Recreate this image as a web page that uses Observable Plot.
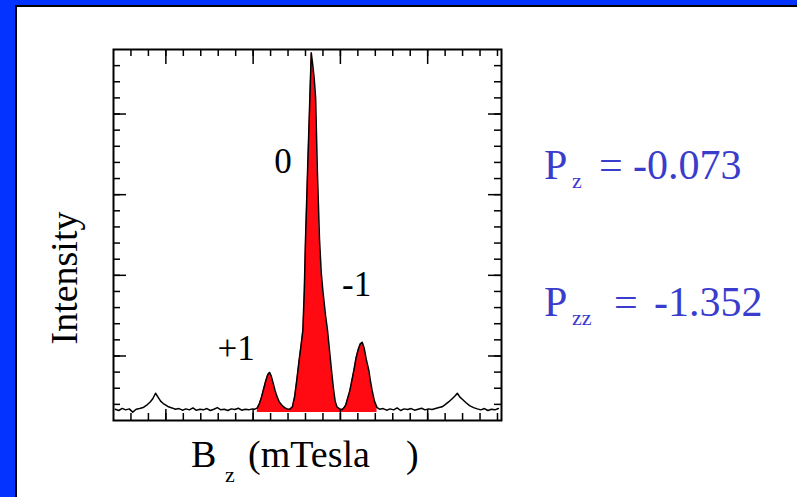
<!DOCTYPE html>
<html>
<head>
<meta charset="utf-8">
<script src="https://cdn.jsdelivr.net/npm/d3@7"></script>
<script src="https://cdn.jsdelivr.net/npm/@observablehq/plot@0.6"></script>
<style>
html, body { margin: 0; padding: 0; background: #fff; }
#wrap { position: relative; width: 797px; height: 497px; overflow: hidden; background: #fff;
        font-family: "Liberation Serif", "Times New Roman", serif; }
.bar { position: absolute; }
#plot { position: absolute; left: 0; top: 0; }
.t { position: absolute; white-space: nowrap; line-height: 1; }
.blue { color: #3a3ccc; }
</style>
</head>
<body>
<div id="wrap">
  <div class="bar" style="left:0;top:0;width:15px;height:497px;background:#0433ff"></div>
  <div class="bar" style="left:0;top:0;width:797px;height:5px;background:#0433ff"></div>
  <div class="bar" style="left:15px;top:5px;width:2px;height:492px;background:#000"></div>
  <div class="bar" style="left:15px;top:5px;width:782px;height:2px;background:#000"></div>
  <div id="plot"></div>
</div>
<script>
// Magnetic field position (in minor-tick units of the B_z axis)
const fieldB = [
  0.1, 0.3, 0.5, 0.7, 0.9, 1.1, 1.3, 1.5, 1.7, 1.9, 2.1, 2.25, 2.41, 2.55, 2.7, 2.85, 3.0, 3.15, 3.35, 3.55,
  3.75, 3.95, 4.15, 4.35, 4.55, 4.75, 4.95, 5.15, 5.35, 5.55, 5.75, 5.95, 6.15, 6.35, 6.55, 6.75, 6.95, 7.15,
  7.35, 7.55, 7.75, 7.95, 8.1, 8.24, 8.36, 8.48, 8.6, 8.72, 8.84, 8.94, 9.04, 9.14, 9.26, 9.38, 9.5, 9.65,
  9.8, 9.95, 10.1, 10.25, 10.38, 10.5, 10.62, 10.75, 10.85, 10.93, 11.0, 11.12, 11.25, 11.33, 11.42, 11.5,
  11.58, 11.68, 11.8, 11.9, 12.0, 12.15, 12.26, 12.38, 12.5, 12.6, 12.7, 12.8, 12.95, 13.1, 13.2, 13.3,
  13.42, 13.54, 13.66, 13.77, 13.9, 14.02, 14.14, 14.25, 14.36, 14.48, 14.63, 14.73, 14.82, 14.95, 15.1,
  15.25, 15.45, 15.65, 15.85, 16.05, 16.25, 16.45, 16.65, 16.85, 17.05, 17.25, 17.45, 17.65, 17.85, 18.05,
  18.25, 18.45, 18.65, 18.83, 19.0, 19.2, 19.4, 19.55, 19.7, 19.85, 20.0, 20.2, 20.4, 20.63, 20.85, 21.05,
  21.25, 21.45, 21.65, 21.85, 22.05
];
// Intensity
const intensity = [
  0.70, 0.62, 0.75, 0.66, 0.72, 0.52, 0.70, 0.74, 0.80, 0.95, 1.15, 1.35, 1.69, 1.45, 1.20, 1.05, 0.95, 0.85, 0.78, 0.70,
  0.74, 0.64, 0.72, 0.66, 0.78, 0.63, 0.70, 0.66, 0.74, 0.62, 0.70, 0.80, 0.66, 0.70, 0.62, 0.72, 0.68, 0.76,
  0.64, 0.70, 0.66, 0.72, 0.70, 0.78, 1.05, 1.45, 1.95, 2.45, 2.85, 2.98, 2.75, 2.35, 1.85, 1.45, 1.15, 0.95,
  0.80, 0.72, 0.70, 0.85, 1.50, 2.50, 3.60, 4.70, 5.60, 8.00, 11.2, 15.5, 20.0, 22.8, 22.0, 21.2,
  20.0, 15.5, 11.3, 9.20, 8.00, 6.50, 5.60, 4.30, 3.00, 2.00, 1.20, 0.85, 0.72, 0.68, 0.78, 0.95,
  1.40, 1.85, 2.50, 3.10, 3.90, 4.40, 4.75, 4.85, 4.50, 3.80, 3.10, 2.40, 1.85, 1.20, 0.80,
  0.70, 0.74, 0.64, 0.72, 0.66, 0.78, 0.62, 0.72, 0.68, 0.74, 0.64, 0.70, 0.76, 0.66, 0.72,
  0.68, 0.74, 0.80, 0.85, 0.98, 1.15, 1.35, 1.50, 1.69, 1.45, 1.30, 1.10, 0.92, 0.80, 0.72, 0.66,
  0.74, 0.62, 0.70, 0.66, 0.74
];
// Peak labels (magnetic substate m)
const peakNames = ["+1", "0", "-1"];
const peakLabelB = [7.02, 9.71, 13.93];
const peakLabelI = [4.46, 16.03, 8.4];

// Filled (red) region of the spectrum and its floor
const redFrom = 8.2, redTo = 15.12, redFloor = 0.5;

const spectrum = fieldB.map((b, i) => ({b, v: intensity[i]}));
const redPart = spectrum.filter(d => d.b >= redFrom && d.b <= redTo);
const labels = peakNames.map((s, i) => ({s, b: peakLabelB[i], v: peakLabelI[i]}));

const fw = 388, fh = 371; // frame size in px
const xMinor = d3.range(1, 23), xMajor = [3, 8, 13, 18];
const yMinor = d3.range(1, 23), yMajor = [4, 9, 14, 19];
const tw = 1.5;

const chart = Plot.plot({
  width: 797, height: 497,
  marginLeft: 113, marginRight: 296, marginTop: 49, marginBottom: 77,
  x: {domain: [0, 22.23], axis: null},
  y: {domain: [0, 23], axis: null},
  style: {background: "transparent", overflow: "visible"},
  marks: [
    Plot.areaY(redPart, {x: "b", y1: redFloor, y2: "v", fill: "#ff0a12"}),
    Plot.line(spectrum, {x: "b", y: "v", stroke: "#000", strokeWidth: 1.5}),
    // top ticks (inward)
    Plot.tickX(xMinor, {x: d => d, insetBottom: fh - 7, stroke: "#000", strokeWidth: tw}),
    Plot.tickX(xMajor, {x: d => d, insetBottom: fh - 15, stroke: "#000", strokeWidth: tw}),
    // bottom ticks
    Plot.tickX(xMinor, {x: d => d, insetTop: fh - 7, stroke: "#000", strokeWidth: tw}),
    Plot.tickX(xMajor, {x: d => d, insetTop: fh - 11, stroke: "#000", strokeWidth: tw}),
    // left ticks
    Plot.tickY(yMinor, {y: d => d, insetRight: fw - 7, stroke: "#000", strokeWidth: tw}),
    Plot.tickY(yMajor, {y: d => d, insetRight: fw - 13, stroke: "#000", strokeWidth: tw}),
    // right ticks
    Plot.tickY(yMinor, {y: d => d, insetLeft: fw - 7, stroke: "#000", strokeWidth: tw}),
    Plot.tickY(yMajor, {y: d => d, insetLeft: fw - 13, stroke: "#000", strokeWidth: tw}),
    Plot.frame({stroke: "#000", strokeWidth: 2}),
    Plot.text(labels, {x: "b", y: "v", text: "s", fontSize: 35, fontFamily: "Liberation Serif",
      fill: "#000", textAnchor: "middle", lineAnchor: "middle"})
  ]
});
document.getElementById("plot").appendChild(chart);

// Text overlays
const wrap = document.getElementById("wrap");
function addText(txt, left, baseline, size, cls, extra) {
  const s = document.createElement("span");
  s.className = "t " + (cls || "");
  s.textContent = txt;
  s.style.fontSize = size + "px";
  s.style.left = left + "px";
  s.style.top = (baseline - 0.8375 * size) + "px";
  if (extra) Object.assign(s.style, extra);
  wrap.appendChild(s);
  return s;
}
// Polarization values
addText("P", 544, 179, 42, "blue");
addText("z", 572, 188, 22, "blue");
addText("=", 599, 179, 42, "blue");
addText("-0.073", 633, 179, 42, "blue");
addText("P", 544, 316, 42, "blue");
addText("zz", 572, 325, 22, "blue");
addText("=", 614, 316, 42, "blue");
addText("-1.352", 654, 316, 42, "blue");
// x label
addText("B", 191, 467, 38);
addText("z", 225, 482, 22);
addText("(mTesla", 248, 467, 38);
addText(")", 406, 467, 38);
// y label
const yl = document.createElement("span");
yl.className = "t";
yl.textContent = "Intensity";
yl.style.fontSize = "38px";
yl.style.left = "64px";
yl.style.top = "278px";
yl.style.transform = "translate(-50%, -50%) rotate(-90deg)";
wrap.appendChild(yl);
</script>
</body>
</html>
